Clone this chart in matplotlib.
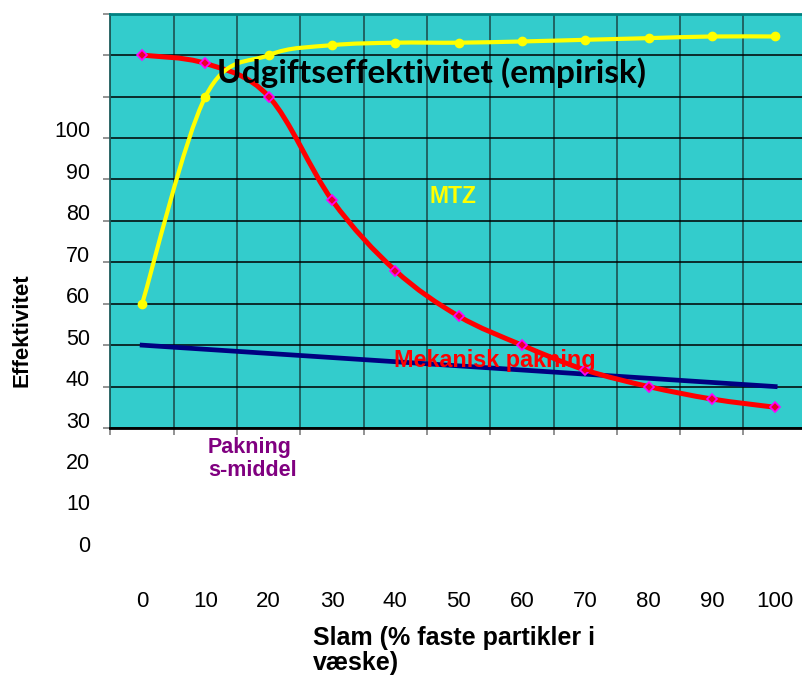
import numpy as np
import matplotlib
matplotlib.use("Agg")
from matplotlib import pyplot as plt
from matplotlib.path import Path
from matplotlib.patches import PathPatch
from matplotlib import transforms

plt.rcParams['font.family'] = ['Liberation Sans', 'DejaVu Sans']

# slurry content (% solids) and efficiency of each sealing type
slam = [0, 10, 20, 30, 40, 50, 60, 70, 80, 90, 100]
mtz = [60, 110, 120, 122.4, 123, 123, 123.3, 123.7, 124.1, 124.5, 124.5]
mekanisk = [120, 118, 110, 85, 68, 57, 50, 44, 40, 37, 35]
pakning = [50, 49, 48, 47, 46, 45, 44, 43, 42, 41, 40]

y_labels = [0, 10, 20, 30, 40, 50, 60, 70, 80, 90, 100]
x_labels = [0, 10, 20, 30, 40, 50, 60, 70, 80, 90, 100]

TEAL = '#33cccc'


def smooth_path(x, y):
    # Bezier segments through every point, like a spreadsheet's smoothed line
    pts = np.column_stack([x, y]).astype(float)
    n = len(pts)
    verts = [pts[0]]
    codes = [Path.MOVETO]
    for i in range(n - 1):
        p0 = pts[max(i - 1, 0)]
        p1 = pts[i]
        p2 = pts[i + 1]
        p3 = pts[min(i + 2, n - 1)]
        c1 = p1 + (p2 - p0) / 6.0
        c2 = p2 - (p3 - p1) / 6.0
        verts += [c1, c2, p2]
        codes += [Path.CURVE4] * 3
    return Path(verts, codes)


fig = plt.figure(figsize=(8.03, 6.75), dpi=100)
ax = fig.add_axes([110.5 / 803, 247 / 675, 692.5 / 803, 414.3 / 675])
ax.set_facecolor(TEAL)
ax.set_xlim(-5, 104.4)
ax.set_ylim(30, 130)

# grid: black horizontals, dark teal verticals on the category borders
ax.set_yticks(np.arange(30, 131, 10))
ax.set_xticks(np.arange(-5, 100, 10))
ax.yaxis.grid(True, color='black', linewidth=1.1)
ax.xaxis.grid(True, color='#1e5c5c', linewidth=1.3)
ax.set_axisbelow(True)
ax.tick_params(axis='both', labelleft=False, labelbottom=False,
               color='#808080', length=5, width=1.2, direction='out')

ax.spines['right'].set_visible(False)
ax.spines['top'].set_color('#008080')
ax.spines['top'].set_linewidth(2)
ax.spines['left'].set_color('#1e5c5c')
ax.spines['left'].set_linewidth(1.3)
ax.spines['bottom'].set_color('black')
ax.spines['bottom'].set_linewidth(2)

# series
ax.add_patch(PathPatch(smooth_path(slam, mekanisk), fill=False, edgecolor='#ff0000',
                       linewidth=3.6, capstyle='round', joinstyle='round', zorder=3))
ax.plot(slam, pakning, color='#000080', linewidth=3.4, zorder=2.5)
ax.add_patch(PathPatch(smooth_path(slam, mtz), fill=False, edgecolor='#ffff00',
                       linewidth=3.0, capstyle='round', joinstyle='round', zorder=4))
ax.plot(slam, mekanisk, linestyle='none', marker='D', markersize=5.5,
        markerfacecolor='#e8002a', markeredgecolor='#ff00ff', markeredgewidth=1.2, zorder=5)
ax.plot(slam, mtz, linestyle='none', marker='o', markersize=6,
        markerfacecolor='#ffff00', markeredgecolor='#ffff00', zorder=5)

# value labels on the axes, set a little above their gridlines
lab_y = transforms.blended_transform_factory(ax.transAxes, ax.transData) + \
    transforms.ScaledTranslation(0, 6 / 100, fig.dpi_scale_trans)
for v in y_labels:
    ax.text(-0.0296, v, str(v), transform=lab_y, ha='right', va='center',
            fontsize=15.5, clip_on=False)

lab_x = transforms.blended_transform_factory(ax.transData, ax.transAxes)
for v in x_labels:
    ax.text(v, -0.418, str(v), transform=lab_x, ha='center', va='center',
            fontsize=16, clip_on=False)

# annotations
ax.text(0.154, 0.832, 'Udgiftseffektivitet (empirisk)', transform=ax.transAxes,
        fontsize=24, fontweight='bold', family=['Lato', 'DejaVu Sans'],
        ha='left', va='baseline', zorder=6)
ax.text(0.46, 0.543, 'MTZ', transform=ax.transAxes, color='#ffff00',
        fontsize=16.5, fontweight='bold', ha='left', va='baseline', zorder=6)
ax.text(0.409, 0.1466, 'Mekanisk pakning', transform=ax.transAxes, color='#ff0000',
        fontsize=16.8, fontweight='bold', ha='left', va='baseline', zorder=6)
ax.text(0.1408, -0.0216, 'Pakning\ns-middel', transform=ax.transAxes, color='#800080',
        fontsize=15.5, fontweight='bold', ha='left', va='top', linespacing=1.15)

fig.text(22 / 803, 1 - 330 / 675, 'Effektivitet', rotation=90, fontsize=16,
         fontweight='bold', ha='center', va='center')
fig.text(313 / 803, 1 - 626 / 675, 'Slam (% faste partikler i\nvæske)', fontsize=18,
         fontweight='bold', ha='left', va='top', linespacing=1.05)

fig.savefig('out.png', dpi=100)
